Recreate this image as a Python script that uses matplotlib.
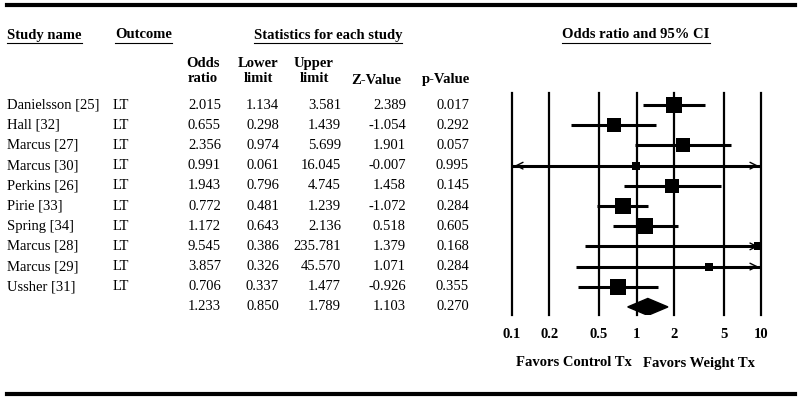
import matplotlib
matplotlib.use('Agg')
import matplotlib.pyplot as plt
from matplotlib.lines import Line2D
from matplotlib.transforms import blended_transform_factory
from matplotlib.ticker import NullLocator

# data
studies = ['Danielsson [25]', 'Hall [32]', 'Marcus [27]', 'Marcus [30]', 'Perkins [26]',
           'Pirie [33]', 'Spring [34]', 'Marcus [28]', 'Marcus [29]', 'Ussher [31]']
outcomes = ['LT'] * 10
odds = [2.015, 0.655, 2.356, 0.991, 1.943, 0.772, 1.172, 9.545, 3.857, 0.706]
lower = [1.134, 0.298, 0.974, 0.061, 0.796, 0.481, 0.643, 0.386, 0.326, 0.337]
upper = [3.581, 1.439, 5.699, 16.045, 4.745, 1.239, 2.136, 235.781, 45.570, 1.477]
zvals = [2.389, -1.054, 1.901, -0.007, 1.458, -1.072, 0.518, 1.379, 1.071, -0.926]
pvals = [0.017, 0.292, 0.057, 0.995, 0.145, 0.284, 0.605, 0.168, 0.284, 0.355]
# estimated relative weights (%), shown as box size
weights = [13.5, 11.5, 11.0, 3.5, 11.5, 15.0, 14.5, 3.5, 3.5, 12.5]
summary = [1.233, 0.850, 1.789, 1.103, 0.270]  # OR, lower, upper, Z, p

tick_vals = [0.1, 0.2, 0.5, 1, 2, 5, 10]
tick_labels = ['0.1', '0.2', '0.5', '1', '2', '5', '10']

plt.rcParams['font.family'] = ['Liberation Serif', 'DejaVu Serif']
W, H = 800, 401
FS = 10.5


def fx(px):
    return px / W


def fy(px):
    return 1 - px / H


fig = plt.figure(figsize=(8, 4.01), dpi=100)
fig.patch.set_facecolor('white')

# forest plot axes
ax = fig.add_axes([fx(512), fy(315), fx(249), 222 / H])
ax.set_xscale('log')
ax.set_xlim(0.1, 10)
ax.set_ylim(10.4, -0.6)
for s in ax.spines.values():
    s.set_visible(False)
ax.set_yticks([])
ax.set_xticks(tick_vals)
ax.set_xticklabels(tick_labels, fontweight='bold', fontsize=FS)
ax.xaxis.set_minor_locator(NullLocator())
ax.tick_params(axis='x', length=0, pad=9)

for t in tick_vals:
    ax.axvline(t, color='black', lw=1.6, clip_on=False, zorder=1)

xmin, xmax = ax.get_xlim()
for i in range(len(studies)):
    lo = max(lower[i], xmin)
    hi = min(upper[i], xmax)
    ax.plot([lo, hi], [i, i], color='black', lw=2.2, solid_capstyle='butt', zorder=2)
    if lower[i] < xmin:
        ax.annotate('', xy=(xmin, i), xytext=(xmin * 1.3, i),
                    arrowprops=dict(arrowstyle='->', lw=1.0, color='black', mutation_scale=12))
    if upper[i] > xmax:
        ax.annotate('', xy=(xmax, i), xytext=(xmax / 1.3, i),
                    arrowprops=dict(arrowstyle='->', lw=1.0, color='black', mutation_scale=12))
    side_px = 4.26 * weights[i] ** 0.5
    ax.plot(odds[i], i, marker='s', color='black', markersize=side_px * 0.72,
            mew=0, zorder=3, clip_on=False)

# summary diamond
ys = len(studies)
ax.fill([summary[1], summary[0], summary[2], summary[0]],
        [ys, ys - 0.42, ys, ys + 0.42], color='black', zorder=3)

# table text
row_tr = blended_transform_factory(fig.transFigure, ax.transData)
col_right = [221, 279, 341, 406, 469]
for i in range(len(studies)):
    fig.text(fx(7), i, studies[i], transform=row_tr, ha='left', va='center', fontsize=FS)
    fig.text(fx(113), i, outcomes[i], transform=row_tr, ha='left', va='center', fontsize=FS)
    vals = [odds[i], lower[i], upper[i], zvals[i], pvals[i]]
    for x, v in zip(col_right, vals):
        fig.text(fx(x), i, f'{v:.3f}', transform=row_tr, ha='right', va='center', fontsize=FS)
for x, v in zip(col_right, summary):
    fig.text(fx(x), ys, f'{v:.3f}', transform=row_tr, ha='right', va='center', fontsize=FS)

# headers
underlined = []
underlined.append(fig.text(fx(7), fy(35), 'Study name', ha='left', va='center',
                           fontsize=FS, fontweight='bold'))
underlined.append(fig.text(fx(115), fy(35), 'Outcome', ha='left', va='center',
                           fontsize=FS, fontweight='bold'))
underlined.append(fig.text(fx(328), fy(35), 'Statistics for each study', ha='center',
                           va='center', fontsize=FS, fontweight='bold'))
underlined.append(fig.text(fx(636), fy(35), 'Odds ratio and 95% CI', ha='center',
                           va='center', fontsize=FS, fontweight='bold'))

fig.text(fx(203), fy(71), 'Odds\nratio', ha='center', va='center', fontsize=FS,
         fontweight='bold', linespacing=1.2)
fig.text(fx(258), fy(71), 'Lower\nlimit', ha='center', va='center', fontsize=FS,
         fontweight='bold', linespacing=1.2)
fig.text(fx(314), fy(71), 'Upper\nlimit', ha='center', va='center', fontsize=FS,
         fontweight='bold', linespacing=1.2)
fig.text(fx(376), fy(80), 'Z-Value', ha='center', va='center', fontsize=FS, fontweight='bold')
fig.text(fx(446), fy(80), 'p-Value', ha='center', va='center', fontsize=FS, fontweight='bold')

fig.text(fx(632), fy(363), 'Favors Control Tx', ha='right', va='center',
         fontsize=FS, fontweight='bold')
fig.text(fx(643), fy(363), 'Favors Weight Tx', ha='left', va='center',
         fontsize=FS, fontweight='bold')

# thick rules at top and bottom
fig.add_artist(Line2D([fx(7), fx(795)], [fy(5), fy(5)], color='black', lw=3,
                      transform=fig.transFigure))
fig.add_artist(Line2D([fx(7), fx(795)], [fy(394), fy(394)], color='black', lw=3,
                      transform=fig.transFigure))

# underline header texts
fig.canvas.draw()
renderer = fig.canvas.get_renderer()
for t in underlined:
    bb = t.get_window_extent(renderer).transformed(fig.transFigure.inverted())
    yline = bb.y0 - 1.0 / H
    fig.add_artist(Line2D([bb.x0, bb.x1], [yline, yline], color='black', lw=0.8,
                          transform=fig.transFigure))

fig.savefig('out.png', dpi=100, facecolor='white')
